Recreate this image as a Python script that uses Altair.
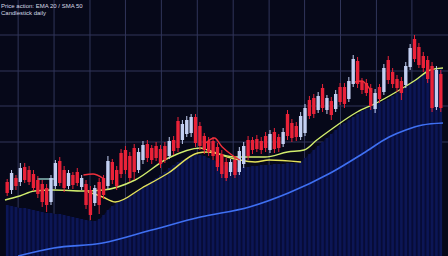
import altair as alt
import pandas as pd

# ---- candle data (index, OHLC) ----
opens = [74, 66, 78, 74, 89, 86, 82, 76, 72, 68, 54, 70, 95, 86, 70, 81, 84, 69, 72, 66,
         53, 74, 78, 70, 94, 86, 103, 106, 100, 108, 86, 96, 112, 108, 110, 107, 110, 100, 116, 135,
         116, 122, 123, 139, 130, 120, 115, 115, 109, 102, 94, 84, 96, 84, 92, 116, 116, 117, 115, 120,
         106, 124, 119, 112, 142, 133, 130, 119, 123, 156, 158, 146, 168, 146, 155, 147, 169, 169, 157, 172,
         195, 175, 173, 168, 147, 169, 164, 196, 184, 177, 175, 171, 189, 217, 209, 200, 196, 190, 149, 182]
closes = [63, 83, 70, 88, 76, 74, 68, 62, 54, 51, 78, 93, 73, 68, 83, 71, 73, 78, 51, 41,
          68, 51, 61, 95, 76, 70, 82, 86, 78, 84, 104, 111, 98, 96, 98, 92, 96, 115, 105, 108,
          132, 136, 139, 113, 110, 106, 104, 100, 89, 82, 78, 94, 81, 105, 110, 100, 106, 107, 106, 108,
          122, 107, 108, 124, 120, 118, 119, 140, 148, 140, 142, 160, 148, 158, 141, 162, 154, 152, 175, 197,
          172, 166, 163, 150, 163, 157, 188, 176, 172, 168, 163, 190, 208, 197, 191, 188, 177, 148, 186, 148]
highs = [77, 86, 81, 93, 93, 90, 86, 80, 76, 72, 81, 96, 99, 90, 86, 84, 88, 81, 76, 70,
         71, 78, 81, 100, 97, 90, 107, 110, 104, 112, 108, 115, 116, 111, 114, 111, 114, 119, 120, 139,
         136, 140, 142, 142, 134, 123, 119, 119, 113, 106, 98, 97, 100, 109, 114, 120, 119, 121, 119, 124,
         126, 128, 122, 128, 146, 137, 134, 144, 152, 160, 162, 164, 172, 161, 159, 166, 173, 173, 179, 201,
         199, 178, 177, 172, 167, 172, 192, 200, 188, 181, 179, 194, 212, 221, 213, 204, 200, 194, 190, 186]
lows = [60, 62, 66, 70, 73, 71, 65, 58, 49, 44, 51, 67, 70, 64, 67, 67, 70, 66, 47, 36,
        50, 42, 57, 67, 72, 66, 78, 82, 74, 76, 83, 92, 94, 92, 95, 88, 93, 97, 101, 104,
        112, 119, 119, 109, 106, 102, 100, 96, 85, 78, 75, 80, 78, 81, 88, 96, 102, 104, 102, 104,
        103, 103, 104, 109, 116, 114, 115, 116, 120, 137, 138, 143, 144, 142, 136, 144, 151, 148, 154, 169,
        168, 162, 160, 146, 143, 153, 161, 172, 168, 164, 156, 168, 186, 194, 188, 184, 173, 144, 146, 144]
volume = [51, 50, 49, 48, 48, 47, 46, 45, 44, 43, 43, 42, 42, 41, 40, 39, 38, 37, 36, 35,
          35, 37, 41, 46, 50, 53, 56, 58, 60, 63, 66, 68, 72, 75, 78, 81, 84, 88, 91, 94,
          96, 98, 100, 101, 101, 100, 98, 96, 94, 92, 90, 88, 88, 88, 89, 89, 90, 90, 91, 91,
          91, 92, 92, 92, 93, 93, 93, 94, 98, 102, 106, 110, 114, 118, 122, 126, 130, 133, 136, 139,
          142, 145, 147, 149, 151, 153, 155, 157, 160, 163, 166, 169, 172, 175, 178, 181, 184, 186, 187, 188]

# ---- overlay lines ----
ma_fast_x = [0, 3.35, 6.7, 11.16, 17.86, 22.5, 29.7, 37.3, 44.6, 46.2, 52.5, 59.4, 64.5, 68.3, 71.2,
             74.3, 80.4, 84.8, 89.3, 93.75, 97.1, 100]
ma_fast_y = [56, 60, 65, 66, 65, 66, 76, 98, 108, 106, 99, 99, 104, 106, 116,
             126, 144, 153, 164, 176, 186, 188]
ma_slow_x = [19.0, 22.3, 25.2, 31.25, 37.3, 44.0, 46.2, 52.5, 57.1, 60.3, 67.6]
ma_slow_y = [64, 59, 54, 68, 83, 103, 104, 97, 94, 96, 94]
cyan_x = [7.4, 11.2]
cyan_y = [77, 77]
trend_x = [3.0, 11.16, 22.3, 33.5, 44.6, 55.8, 64.7, 74.3, 81.9, 87.7, 91.5, 95.3, 100]
trend_y = [0, 8, 13, 26, 39, 49, 63, 83, 103, 119, 126, 131, 133]
signal_seg = ["a", "a", "a", "b", "b", "b", "b", "b", "c", "c", "c", "c"]
signal_x = [17.9, 20.1, 22.3, 45.8, 47.8, 49.6, 51.8, 53.6, 79.9, 81.5, 82.8, 83.7]
signal_y = [81, 82, 78, 113, 118, 109, 101, 96, 174, 175, 170, 164]

grid_x = [3, 11.2, 19.4, 27.5, 35.7, 43.9, 52.1, 60.3, 68.4, 76.6, 84.8, 92.9]
grid_y = [221, 185, 150, 114]

title_lines = ["Price action: EMA 20 / SMA 50", "Candlestick daily"]

# ---- build tables ----
n = len(opens)
candles = pd.DataFrame({
    "day": [i + 0.5 for i in range(n)],
    "open": opens, "close": closes, "high": highs, "low": lows, "volume": volume,
})
candles["dir"] = ["up" if c >= o else "down" for o, c in zip(opens, closes)]

W, H = 448, 256
xs = alt.Scale(domain=[0, 100], nice=False, zero=False)
ys = alt.Scale(domain=[0, 256], nice=False, zero=False)
colors = alt.Scale(domain=["up", "down"], range=["#c3cff2", "#ea2238"])

def X(f="day"):
    return alt.X(f"{f}:Q", scale=xs, axis=None)

def Y(f):
    return alt.Y(f"{f}:Q", scale=ys, axis=None)

gx = alt.Chart(pd.DataFrame({"g": grid_x})).mark_rule(color="#30355a", strokeWidth=1).encode(
    x=alt.X("g:Q", scale=xs, axis=None), y=alt.value(0), y2=alt.value(H))
gy = alt.Chart(pd.DataFrame({"g": grid_y})).mark_rule(color="#30355a", strokeWidth=1).encode(
    y=alt.Y("g:Q", scale=ys, axis=None), x=alt.value(0), x2=alt.value(W))

base = alt.Chart(candles)
vol_area = base.mark_area(color="#070c36", interpolate="monotone").encode(x=X(), y=Y("volume"))
vol_bars = base.mark_bar(color="#0c1655", size=2.6).encode(x=X(), y=Y("volume"))

trend = alt.Chart(pd.DataFrame({"x": trend_x, "y": trend_y})).mark_line(
    color="#3f70f2", strokeWidth=1.6, interpolate="monotone").encode(x=X("x"), y=Y("y"))
ma_fast = alt.Chart(pd.DataFrame({"x": ma_fast_x, "y": ma_fast_y})).mark_line(
    color="#d2ee6e", strokeWidth=1.4, interpolate="monotone").encode(x=X("x"), y=Y("y"))
ma_slow = alt.Chart(pd.DataFrame({"x": ma_slow_x, "y": ma_slow_y})).mark_line(
    color="#e4e25a", strokeWidth=1.4, interpolate="monotone").encode(x=X("x"), y=Y("y"))
cyan = alt.Chart(pd.DataFrame({"x": cyan_x, "y": cyan_y})).mark_line(
    color="#a8e8e0", strokeWidth=1.2).encode(x=X("x"), y=Y("y"))

wicks = base.mark_rule(strokeWidth=1).encode(
    x=X(), y=Y("low"), y2="high:Q",
    color=alt.Color("dir:N", scale=colors, legend=None))
bodies = base.mark_bar(size=3.4).encode(
    x=X(), y=Y("open"), y2="close:Q",
    color=alt.Color("dir:N", scale=colors, legend=None))

signal = alt.Chart(pd.DataFrame({"s": signal_seg, "x": signal_x, "y": signal_y})).mark_line(
    color="#f0303c", strokeWidth=1.4, interpolate="monotone").encode(
    x=X("x"), y=Y("y"), detail="s:N")

t1 = alt.Chart(pd.DataFrame({"t": [title_lines[0]]})).mark_text(
    align="left", baseline="top", fontSize=6, color="#d6d9e6", font="Liberation Sans").encode(
    x=alt.value(1), y=alt.value(3), text="t:N")
t2 = alt.Chart(pd.DataFrame({"t": [title_lines[1]]})).mark_text(
    align="left", baseline="top", fontSize=6, color="#d6d9e6", font="Liberation Sans").encode(
    x=alt.value(1), y=alt.value(10), text="t:N")

chart = alt.layer(
    gx, gy, vol_area, vol_bars, trend, ma_slow, ma_fast, cyan, wicks, bodies, signal, t1, t2
).properties(
    width=W, height=H, padding=0, background="#060819",
    autosize=alt.AutoSizeParams(type="none"),
).configure_view(stroke=None)

chart.save("out.html", embed_options={"renderer": "svg", "actions": False})
